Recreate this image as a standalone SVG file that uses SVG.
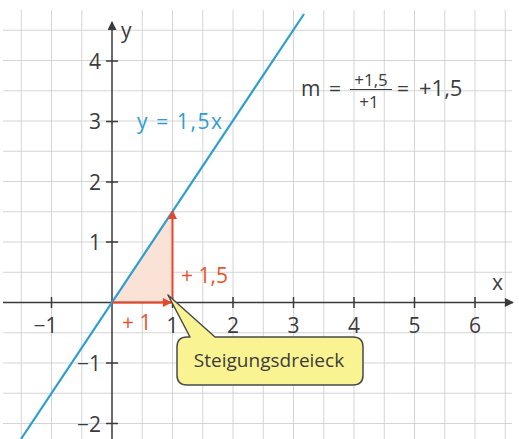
<svg xmlns="http://www.w3.org/2000/svg" width="519" height="439" viewBox="0 0 519 439">
  <style>
    .grid { stroke: #d4d4d4; stroke-width: 1; fill: none; }
    .axis { stroke: #3a3a3a; stroke-width: 1.5; fill: none; }
    .num { font-family: "Open Sans", "Liberation Sans", sans-serif; font-size: 21px; fill: #3c3c3c; }
    .red { stroke: #e8462b; stroke-width: 2; fill: none; }
    .redtxt { font-family: "Open Sans", "Liberation Sans", sans-serif; font-size: 21px; fill: #e9532f; }
    .blue { stroke: #2e9ed2; stroke-width: 2.2; fill: none; }
    .f { font-family: "Open Sans", "Liberation Sans", sans-serif; fill: #3c3c3c; }
  </style>
  <defs>
    <marker id="redhead" viewBox="0 0 10 10" refX="9" refY="5" markerWidth="11" markerHeight="9" markerUnits="userSpaceOnUse" orient="auto">
      <path d="M0,0 L10,5 L0,10 Z" fill="#e8462b"/>
    </marker>
    <marker id="axhead" viewBox="0 0 10 10" refX="9" refY="5" markerWidth="11" markerHeight="9" markerUnits="userSpaceOnUse" orient="auto">
      <path d="M0,0 L10,5 L0,10 Z" fill="#3a3a3a"/>
    </marker>
  </defs>
  <rect width="519" height="439" fill="#ffffff"/>

  <g id="grid" class="grid">
    <path d="M21.25,10V439 M51.5,10V439 M81.75,10V439 M142.25,10V439 M172.5,10V439 M202.75,10V439 M233,10V439 M263.25,10V439 M293.5,10V439 M323.75,10V439 M354,10V439 M384.25,10V439 M414.5,10V439 M444.75,10V439 M475,10V439 M505.25,10V439"/>
    <path d="M3,30.25H512 M3,60.5H512 M3,90.75H512 M3,121H512 M3,151.25H512 M3,181.5H512 M3,211.75H512 M3,242H512 M3,272.25H512 M3,332.75H512 M3,363H512 M3,393.25H512 M3,423.5H512"/>
  </g>

  <g id="triangle">
    <polygon points="112,302.5 172.5,302.5 172.5,211.75" fill="#fbe2d6"/>
  </g>

  <g id="axes">
    <line class="axis" x1="3" y1="302.5" x2="513" y2="302.5" marker-end="url(#axhead)"/>
    <line class="axis" x1="112" y1="439" x2="112" y2="22" marker-end="url(#axhead)"/>
    <path class="axis" d="M51.5,297V308 M172.5,297V308 M233,297V308 M293.5,297V308 M354,297V308 M414.5,297V308 M475,297V308"/>
    <path class="axis" d="M106,61H118 M106,121.5H118 M106,182H118 M106,242H118 M106,363H118 M106,423.5H118"/>
    <text class="num" x="121" y="38">y</text>
    <text class="num" x="492" y="290">x</text>
    <g text-anchor="middle">
      <text class="num" x="172.5" y="333">1</text>
      <text class="num" x="233" y="333">2</text>
      <text class="num" x="293.5" y="333">3</text>
      <text class="num" x="354" y="333">4</text>
      <text class="num" x="414.5" y="333">5</text>
      <text class="num" x="475" y="333">6</text>
    </g>
    <text class="num" x="57.5" y="333" text-anchor="end">−1</text>
    <g text-anchor="end">
      <text class="num" x="101" y="68.5">4</text>
      <text class="num" x="101" y="129">3</text>
      <text class="num" x="101" y="189.5">2</text>
      <text class="num" x="101" y="249.5">1</text>
      <text class="num" x="101" y="371">−1</text>
      <text class="num" x="101" y="432">−2</text>
    </g>
  </g>

  <g id="graph">
    <line class="blue" x1="21" y1="439" x2="304" y2="14"/>
    <text x="137" y="128.5" font-family="Open Sans, Liberation Sans, sans-serif" font-size="21" fill="#2e9ed2" textLength="85" lengthAdjust="spacing">y = 1,5x</text>
  </g>

  <g id="connectors">
    <line class="red" x1="112" y1="302.5" x2="171" y2="302.5" marker-end="url(#redhead)"/>
    <line class="red" x1="172.5" y1="302.5" x2="172.5" y2="211" marker-end="url(#redhead)"/>
  </g>

  <g id="labels">
    <text class="redtxt" x="181" y="283">+ 1,5</text>
    <text class="redtxt" x="122" y="330">+ 1</text>
  </g>

  <g id="formula" class="f">
    <text x="301" y="96" font-size="21">m</text>
    <text x="329" y="96" font-size="21">=</text>
    <text x="371" y="86" font-size="17" text-anchor="middle">+1,5</text>
    <line x1="350" y1="89.5" x2="392" y2="89.5" stroke="#3c3c3c" stroke-width="1.2"/>
    <text x="369" y="108" font-size="17" text-anchor="middle">+1</text>
    <text x="397" y="96" font-size="21">=</text>
    <text x="419" y="96" font-size="22">+1,5</text>
  </g>

  <g id="callout">
    <path d="M187,337 H190 L168,295 L215,337 H353 Q363,337 363,347 V375 Q363,385 353,385 H187 Q177,385 177,375 V347 Q177,337 187,337 Z" fill="#faf392" stroke="#4a4a4a" stroke-width="1.5" stroke-linejoin="round"/>
    <text x="269" y="367" font-family="Open Sans, Liberation Sans, sans-serif" font-size="19" fill="#3c3c3c" text-anchor="middle">Steigungsdreieck</text>
  </g>
</svg>
